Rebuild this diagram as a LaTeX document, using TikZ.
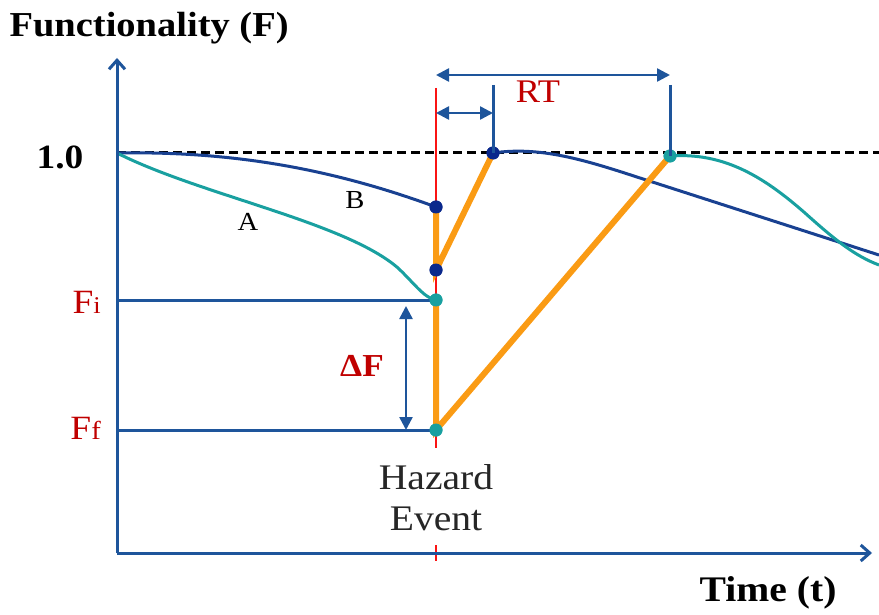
\documentclass[tikz,border=0pt]{standalone}
\usepackage{fontspec}
\setmainfont[FakeStretch=1.1]{Liberation Serif}
\usetikzlibrary{arrows.meta}
\definecolor{axblue}{RGB}{30,85,155}
\definecolor{cblue}{RGB}{25,65,145}
\definecolor{dotblue}{RGB}{10,40,140}
\definecolor{tealc}{RGB}{25,160,160}
\definecolor{orng}{RGB}{250,155,20}
\definecolor{redt}{RGB}{192,0,0}
\definecolor{redl}{RGB}{250,20,20}
\tikzset{
  axisline/.style={draw=axblue, line width=3pt, -{Straight Barb[length=9pt,width=16pt,line width=3pt]}},
  guide/.style={draw=axblue, line width=3pt},
  dimarrow/.style={draw=axblue, line width=2.5pt, {Triangle[length=13pt,width=13pt]}-{Triangle[length=13pt,width=13pt]}},
  curveB/.style={draw=cblue, line width=3pt},
  curveA/.style={draw=tealc, line width=3pt},
  rec/.style={draw=orng, line width=6pt},
  bdot/.style={circle, fill=dotblue, inner sep=0pt, minimum size=13pt},
  tdot/.style={circle, fill=tealc, inner sep=0pt, minimum size=13pt},
  redlbl/.style={text=redt, inner sep=0pt, font=\fontsize{34}{38}\selectfont},
  blbl/.style={text=black, font=\bfseries\fontsize{35}{38}\selectfont},
}
\begin{document}
\begin{tikzpicture}[x=1pt,y=-1pt]
\useasboundingbox (0,0) rectangle (879,615);
% key coordinates
\coordinate (O) at (117,553);
\coordinate (Ytop) at (117,58);
\coordinate (Xend) at (872,553);
\coordinate (Ystart) at (117,153);
\coordinate (Dend) at (879,153);
\coordinate (Htop) at (436,88);
\coordinate (Hbot) at (436,448);
\coordinate (Htick1) at (436,545);
\coordinate (Htick2) at (436,561);
\coordinate (FiL) at (117,300);
\coordinate (FfL) at (117,430);
\coordinate (BendR) at (879,255);
\coordinate (AendR) at (879,265);
\coordinate (T1top) at (493,85);
\coordinate (T2top) at (670,85);
\coordinate (S1a) at (436,113);
\coordinate (S1b) at (493,113);
\coordinate (RTa) at (436,75);
\coordinate (RTb) at (670,75);
\coordinate (DFa) at (406,306);
\coordinate (DFb) at (406,430);

% dashed reference line
\draw[black, line width=3pt, dash pattern=on 9pt off 5pt] (Ystart) -- (Dend);
% hazard line
\draw[redl, line width=2pt] (Htop) -- (Hbot);
\draw[redl, line width=2pt] (Htick1) -- (Htick2);

% dots
\node[bdot] (B0) at (436,207) {};
\node[bdot] (B1) at (436,270) {};
\node[bdot] (B2) at (493,153) {};
\node[tdot] (A0) at (436,300) {};
\node[tdot] (A1) at (436,430) {};
\node[tdot] (A2) at (670,156) {};

% Fi / Ff guides
\draw[guide] (FiL) -- (A0.center);
\draw[guide] (FfL) -- (A1.center);

% curve B before event
\draw[curveB] (Ystart) .. controls (230,151) and (330,168) .. (B0.center);
% curve A before event
\draw[curveA] (Ystart) .. controls (200,195) and (345,222) .. (398,268) .. controls (414,283) and (424,298) .. (A0.center);
% curves after recovery
\draw[curveB] (B2.center) .. controls (540,146) and (585,160) .. (640,178) -- (BendR);
\draw[curveA] (A2.center) .. controls (725,152) and (765,178) .. (805,213) .. controls (835,240) and (855,256) .. (AendR);

% recovery paths
\draw[rec] (B0.center) -- (B1.center) -- (B2.center);
\draw[rec] (A0.center) -- (A1.center) -- (A2.center);

% dots on top
\node[bdot] at (B0) {};
\node[bdot] at (B1) {};
\node[bdot] at (B2) {};
\node[tdot] at (A0) {};
\node[tdot] at (A1) {};
\node[tdot] at (A2) {};

% vertical ticks for RT
\draw[guide] (T1top) -- (B2.center);
\draw[guide] (T2top) -- (A2.center);

% dimension arrows
\draw[dimarrow] (S1a) -- (S1b);
\draw[dimarrow] (RTa) -- (RTb);
\draw[dimarrow] (DFa) -- (DFb);

% axes
\draw[axisline] (O) -- (Ytop);
\draw[axisline] (O) -- (Xend);

% labels
\node[blbl, anchor=west] (ylab) at (6,28) {Functionality (F)};
\node[blbl, anchor=east, font=\bfseries\fontsize{36}{40}\selectfont] (xlab) at (840,593) {Time (t)};
\node[text=black, font=\bfseries\fontsize{34}{38}\selectfont] (one) at (60,157) {1.0};
\node[redlbl, anchor=east] (Fi) at (101,302) {F{\fontsize{24}{28}\selectfont i}};
\node[redlbl, anchor=east] (Ff) at (101,428) {F{\fontsize{26}{28}\selectfont f}};
\node[redlbl, font=\bfseries\fontsize{32}{36}\selectfont] (dF) at (362,366) {ΔF};
\node[redlbl, font=\fontsize{33}{36}\selectfont] (RT) at (538,92) {RT};
\node[font=\fontsize{26}{30}\selectfont] (Alab) at (248,222) {A};
\node[font=\fontsize{26}{30}\selectfont] (Blab) at (355,200) {B};
\node[text=black!85, align=center, font=\fontsize{36}{41}\selectfont] (haz) at (436,498) {Hazard\\Event};
\end{tikzpicture}
\end{document}
